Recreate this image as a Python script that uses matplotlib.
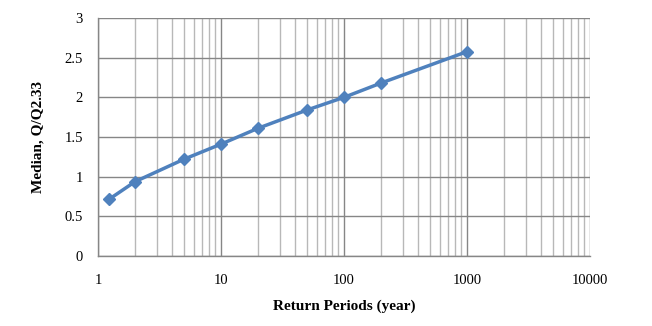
import matplotlib
matplotlib.use("Agg")
import matplotlib.pyplot as plt
from matplotlib.ticker import LogLocator, FixedLocator, NullFormatter

return_periods = [1.23, 2, 5, 10, 20, 50, 100, 200, 1000]
median_ratio = [0.715, 0.937, 1.22, 1.41, 1.61, 1.84, 2.00, 2.18, 2.576]
x_ticks = [1, 10, 100, 1000, 10000]
x_tick_labels = ["1", "10", "100", "1000", "10000"]
y_ticks = [0, 0.5, 1, 1.5, 2, 2.5, 3]
y_tick_labels = ["0", "0.5", "1", "1.5", "2", "2.5", "3"]

plt.rcParams['font.family'] = ['Liberation Serif', 'DejaVu Serif']

fig = plt.figure(figsize=(6.52, 3.26), dpi=100)
ax = fig.add_axes([98/652, 70/326, 492/652, 238/326])

ax.set_xscale('log')
ax.set_xlim(1, 10000)
ax.set_ylim(0, 3)

ax.xaxis.set_major_locator(FixedLocator(x_ticks))
ax.set_xticks(x_ticks)
ax.set_xticklabels(x_tick_labels)
ax.xaxis.set_minor_locator(LogLocator(base=10, subs=range(2, 10), numticks=20))
ax.xaxis.set_minor_formatter(NullFormatter())
ax.set_yticks(y_ticks)
ax.set_yticklabels(y_tick_labels)

ax.grid(True, which='major', axis='both', color='#868686', linewidth=1.0)
ax.grid(True, which='minor', axis='x', color='#b8b8b8', linewidth=1.0)
ax.set_axisbelow(True)

ax.tick_params(axis='both', which='both', length=0, labelsize=10.5, colors='black')
ax.tick_params(axis='x', pad=13)
ax.tick_params(axis='y', pad=11)

for s in ax.spines.values():
    s.set_color('#868686')
    s.set_linewidth(1.0)
ax.spines['top'].set_visible(False)
ax.spines['right'].set_visible(False)

ax.plot(return_periods, median_ratio, color='#4F81BD', linewidth=2.5,
        marker='D', markersize=6, markerfacecolor='#4F81BD', markeredgecolor='#4F81BD')

ax.set_xlabel('Return Periods (year)', fontsize=11, fontweight='bold', labelpad=9)
ax.set_ylabel('Median, Q/Q2.33', fontsize=11, fontweight='bold', labelpad=14)

fig.savefig('out.png', dpi=100)
